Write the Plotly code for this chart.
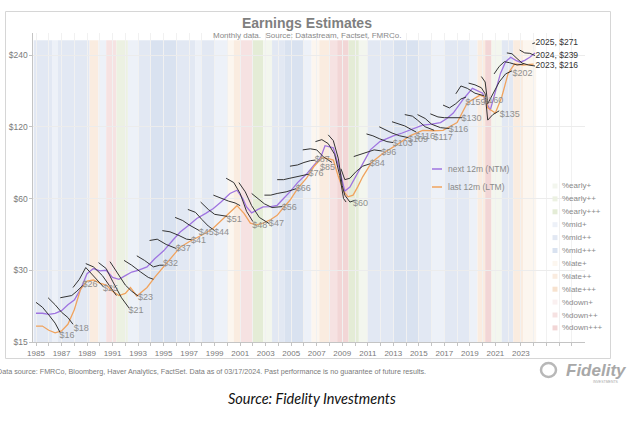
import math
import plotly.graph_objects as go

W, H = 640, 421

# ---------------- data ----------------
ntm_t = [1985.0, 1985.5, 1986.0, 1986.5, 1987.0, 1987.5, 1988.0, 1988.5, 1989.0, 1989.5, 1990.0, 1990.5,
         1991.0, 1991.5, 1992.0, 1992.5, 1993.0, 1993.7, 1994.3, 1995.0, 1995.7, 1996.3, 1997.0, 1997.6,
         1998.3, 1998.9, 1999.5, 2000.2, 2000.75, 2001.2, 2001.5, 2001.9, 2002.4, 2002.8, 2003.4, 2003.9,
         2004.4, 2004.9, 2005.5, 2006.2, 2006.8, 2007.3, 2007.65, 2008.3, 2008.8, 2009.2, 2009.6, 2010.2,
         2010.7, 2011.2, 2011.95, 2012.5, 2013.0, 2013.7, 2014.3, 2015.3, 2016.0, 2016.7, 2017.2, 2017.7,
         2018.5, 2019.2, 2020.0, 2020.3, 2020.6, 2021.0, 2021.4, 2021.8, 2022.2, 2022.6, 2022.95, 2023.3,
         2023.7, 2024.1]
ntm_v = [19.8, 19.8, 19.6, 19.8, 20.3, 21.5, 22.5, 25.0, 29.0, 30.5, 29.8, 30.0,
         28.0, 27.5, 28.5, 29.5, 30.0, 31.0, 33.5, 36.2, 40.0, 43.4, 46.5, 49.5,
         52.0, 54.5, 58.0, 63.0, 65.0, 60.0, 55.3, 52.2, 54.0, 55.3, 55.5, 56.2,
         60.0, 64.0, 70.0, 76.0, 83.0, 89.0, 100.0, 98.0, 79.0, 64.5, 67.0, 76.8,
         86.0, 96.0, 104.0, 107.0, 110.0, 113.0, 116.0, 122.0, 123.0, 125.0, 130.0, 137.0,
         157.0, 174.0, 166.0, 151.0, 141.0, 170.0, 201.0, 225.0, 235.0, 228.0, 224.0, 228.0,
         235.0, 245.0]

ltm_t = [1985.0, 1985.5, 1986.0, 1986.5, 1987.0, 1987.5, 1988.0, 1988.5, 1989.0, 1989.5, 1990.0, 1990.5,
         1991.0, 1991.5, 1992.0, 1992.4, 1992.9, 1993.7, 1994.3, 1995.0, 1995.7, 1996.3, 1997.0, 1997.6,
         1998.3, 1998.9, 1999.5, 2000.2, 2000.75, 2001.3, 2001.8, 2002.3, 2002.8, 2003.4, 2003.9, 2004.4,
         2004.9, 2005.5, 2006.2, 2006.8, 2007.4, 2008.0, 2008.3, 2008.7, 2009.1, 2009.45, 2009.85, 2010.2,
         2010.6, 2011.3, 2012.2, 2013.3, 2014.3, 2015.3, 2016.1, 2016.9, 2018.0, 2018.8, 2019.8, 2020.2,
         2020.4, 2021.0, 2021.5, 2022.0, 2022.5, 2023.2, 2024.0]
ltm_v = [17.5, 17.5, 16.8, 16.4, 16.7, 17.8, 20.5, 25.0, 27.0, 27.3, 26.5, 26.0,
         24.5, 23.5, 24.0, 25.4, 23.4, 25.4, 28.0, 31.0, 34.5, 37.5, 39.5, 41.0,
         43.0, 45.1, 48.5, 52.4, 56.0, 52.0, 47.3, 46.5, 47.3, 49.0, 51.0, 55.0,
         59.0, 66.0, 73.0, 82.0, 89.0, 88.0, 87.0, 74.0, 64.5, 61.0, 62.0, 67.0,
         74.0, 85.0, 93.0, 101.0, 110.0, 116.0, 115.5, 116.0, 125.0, 151.0, 163.0, 160.0,
         144.0, 137.0, 160.0, 201.0, 220.0, 218.0, 220.0]

# calendar-year estimate paths (time, value)
est_years = list(range(1986, 2026))
est_t = [
    [1985.0, 1985.5, 1986.0, 1986.5, 1986.9],
    [1985.95, 1986.5, 1987.0, 1987.5, 1987.9],
    [1986.9, 1987.4, 1987.8, 1988.2, 1988.7],
    [1987.9, 1988.4, 1988.9, 1989.5, 1990.3],
    [1988.9, 1989.5, 1990.2, 1990.8, 1991.3],
    [1989.9, 1990.5, 1991.0, 1991.7, 1992.3],
    [1990.8, 1991.4, 1992.0, 1992.5, 1993.0],
    [1991.9, 1992.5, 1993.2, 1993.8, 1994.2],
    [1992.9, 1993.5, 1994.2, 1994.7, 1995.0],
    [1993.9, 1994.5, 1995.2, 1995.7, 1996.0],
    [1994.9, 1995.5, 1996.2, 1996.8, 1997.2],
    [1995.9, 1996.5, 1997.0, 1997.5, 1997.8],
    [1996.9, 1997.5, 1998.0, 1998.5, 1999.0],
    [1997.9, 1998.5, 1999.0, 1999.5, 2000.0],
    [1998.9, 1999.5, 2000.1, 2000.6, 2001.0],
    [1999.9, 2000.5, 2001.0, 2001.5, 2002.0],
    [2000.9, 2001.4, 2001.9, 2002.5, 2003.3],
    [2001.9, 2002.4, 2002.9, 2003.5, 2004.3],
    [2002.9, 2003.4, 2003.9, 2004.6, 2005.4],
    [2003.9, 2004.4, 2004.9, 2005.6, 2006.4],
    [2004.9, 2005.5, 2006.0, 2006.5, 2006.9],
    [2005.9, 2006.5, 2007.0, 2007.5, 2008.2],
    [2006.9, 2007.4, 2007.9, 2008.4, 2008.8, 2009.1, 2009.3],
    [2007.9, 2008.3, 2008.7, 2009.0, 2009.2, 2009.6, 2010.0],
    [2008.9, 2009.2, 2009.6, 2010.1, 2010.6, 2011.2],
    [2009.9, 2010.4, 2010.9, 2011.5, 2012.1],
    [2010.9, 2011.4, 2011.9, 2012.5, 2013.0],
    [2011.9, 2012.4, 2012.9, 2013.5, 2014.2],
    [2012.9, 2013.4, 2013.9, 2014.4, 2014.8],
    [2013.9, 2014.5, 2014.9, 2015.5, 2016.2],
    [2014.9, 2015.5, 2016.0, 2016.7, 2017.4],
    [2015.9, 2016.5, 2017.0, 2017.6, 2018.4],
    [2016.9, 2017.4, 2017.9, 2018.3, 2018.7],
    [2017.9, 2018.3, 2018.8, 2019.4, 2020.1],
    [2018.9, 2019.4, 2019.9, 2020.2, 2020.4, 2020.8, 2021.3],
    [2019.9, 2020.2, 2020.4, 2020.8, 2021.3, 2021.8, 2022.3],
    [2020.9, 2021.3, 2021.7, 2022.1, 2022.7, 2023.2],
    [2021.9, 2022.3, 2022.7, 2023.1, 2023.6, 2024.1],
    [2022.9, 2023.3, 2023.7, 2024.1],
    [2023.9, 2024.1],
]
est_v = [
    [22.0, 21.0, 19.5, 18.0, 16.4],
    [23.0, 21.5, 20.0, 19.0, 17.8],
    [23.0, 23.3, 23.5, 24.5, 26.0],
    [25.4, 27.5, 30.8, 28.5, 25.5],
    [32.0, 31.0, 28.5, 25.5, 23.5],
    [32.3, 30.5, 27.0, 23.0, 20.8],
    [32.6, 29.0, 26.0, 24.5, 23.4],
    [33.0, 31.5, 29.5, 28.0, 27.5],
    [34.5, 33.0, 31.0, 31.5, 31.5],
    [40.0, 40.5, 38.5, 37.5, 37.0],
    [44.0, 43.5, 42.0, 40.5, 40.3],
    [50.0, 48.5, 46.5, 45.0, 44.0],
    [54.0, 52.5, 49.0, 46.0, 44.0],
    [58.0, 54.0, 51.5, 51.0, 50.5],
    [62.0, 60.0, 58.5, 57.5, 56.0],
    [73.0, 70.0, 63.0, 53.0, 48.0],
    [70.0, 64.0, 56.0, 50.0, 47.0],
    [63.0, 60.0, 57.0, 55.0, 55.5],
    [62.0, 62.0, 63.0, 64.0, 66.0],
    [72.0, 72.0, 73.0, 74.5, 76.0],
    [82.0, 83.0, 85.0, 86.5, 87.0],
    [96.0, 97.0, 96.0, 90.0, 85.0],
    [104.0, 106.0, 102.0, 92.0, 75.0, 60.0, 58.0],
    [111.0, 105.0, 88.0, 68.0, 62.0, 58.0, 59.0],
    [80.0, 72.0, 73.0, 78.0, 82.0, 84.0],
    [90.0, 92.0, 94.0, 96.0, 95.0],
    [112.0, 110.0, 107.0, 104.0, 103.0],
    [120.0, 116.0, 113.0, 110.0, 108.0],
    [126.0, 123.0, 121.0, 117.0, 114.0],
    [135.0, 133.0, 128.0, 120.0, 116.0],
    [135.0, 130.0, 123.0, 119.0, 118.0],
    [136.0, 132.0, 131.0, 131.0, 131.0],
    [148.0, 144.0, 150.0, 157.0, 160.0],
    [165.0, 178.0, 174.0, 166.0, 162.0],
    [183.0, 180.0, 175.0, 165.0, 128.0, 135.0, 140.0],
    [195.0, 185.0, 150.0, 165.0, 185.0, 200.0, 206.0],
    [200.0, 215.0, 225.0, 223.0, 218.0, 220.0],
    [245.0, 243.0, 232.0, 222.0, 218.0, 216.0],
    [252.0, 245.0, 244.0, 239.0],
    [268.0, 270.0],
]

label_t = [1986.85, 1987.95, 1988.65, 1990.25, 1992.25, 1993.0, 1994.95, 1995.95, 1997.15, 1997.75,
           1998.95, 1999.95, 2001.95, 2003.25, 2004.25, 2005.35, 2006.35, 2006.85, 2007.25, 2009.85,
           2011.15, 2012.05, 2012.95, 2014.15, 2014.75, 2016.15, 2017.35, 2018.35, 2018.65, 2020.05,
           2021.35, 2022.35]
label_v = [16.0, 17.1, 26.0, 25.0, 20.3, 23.0, 32.0, 37.0, 40.0, 43.0,
           43.0, 49.0, 46.0, 47.0, 55.0, 66.0, 76.0, 87.0, 81.0, 57.0,
           84.0, 93.0, 102.0, 106.0, 109.0, 108.0, 117.0, 130.0, 152.0, 154.0,
           135.0, 201.0]
label_text = ["$16", "$18", "$26", "$25", "$21", "$23", "$32", "$37", "$41", "$45",
              "$44", "$51", "$48", "$47", "$56", "$66", "$76", "$87", "$85", "$60",
              "$84", "$96", "$103", "$109", "$116", "$117", "$116", "$130", "$159", "$160",
              "$135", "$202"]

fwd_t = [2024.15, 2024.15, 2024.15]
fwd_v = [216.0, 239.0, 271.0]
fwd_text = ["2023, $216", "2024, $239", "2025, $271"]

# business-cycle shading
band_start = [1984.8, 1986.3, 1986.7, 1989.2, 1989.9, 1990.5, 1991.3, 1992.2, 1993.0, 1994.0,
              1996.0, 1997.5, 1998.0, 1999.0, 2000.0, 2000.5, 2001.0, 2002.0, 2002.8, 2003.5,
              2004.5, 2006.0, 2006.6, 2007.2, 2008.0, 2008.6, 2009.5, 2010.3, 2011.0, 2013.0,
              2015.0, 2016.0, 2017.0, 2019.0, 2019.6, 2020.2, 2020.7, 2021.5, 2022.4, 2023.2]
band_end = band_start[1:] + [2024.2]
band_cat = ["mid++", "mid+", "mid++", "late++", "mid+", "down++", "early++", "mid+", "mid++", "mid+++",
            "mid++", "mid+", "mid++", "mid+", "late+", "late++", "down++", "early+++", "early+", "mid++",
            "mid+++", "mid+", "late+", "late++", "down++", "down+++", "early+++", "early+", "mid++", "mid+++",
            "mid++", "mid+", "mid++", "mid+", "late++", "down+++", "early+", "mid++", "late++", "late+"]
band_top = 277

legend_cats = ["early+", "early++", "early+++", "mid+", "mid++", "mid+++",
               "late+", "late++", "late+++", "down+", "down++", "down+++"]
band_colors = {
    "early+": "#f3f6ee", "early++": "#ecf1e2", "early+++": "#e4ecd6",
    "mid+": "#edf1f8", "mid++": "#e2e8f3", "mid+++": "#d9e2f0",
    "late+": "#fcf6ef", "late++": "#faece0", "late+++": "#f7e2cf",
    "down+": "#faf0f0", "down++": "#f6e2e2", "down+++": "#f2d6d6",
}

y_ticks = [15, 30, 60, 120, 240]
y_ticktext = ["$15", "$30", "$60", "$120", "$240"]
x_ticks = list(range(1985, 2028))
x_ticktext = [str(y) if (y % 2 == 1 and y <= 2023) else "" for y in x_ticks]

# ---------------- figure ----------------
def px(x):
    return x / W

def py(y):
    return 1 - y / H

PURPLE = "#9f74e0"
ORANGE = "#f0a35e"
GREY = "#8a8a8a"
FONT = "Liberation Sans, Arial"

fig = go.Figure()

for s, e, c in zip(band_start, band_end, band_cat):
    fig.add_shape(type="rect", xref="x", yref="y", x0=s, x1=e, y0=15, y1=band_top,
                  fillcolor=band_colors[c], line_width=0, layer="below")

fig.add_trace(go.Scatter(x=ntm_t, y=ntm_v, mode="lines", name="next 12m (NTM)",
                         line=dict(color=PURPLE, width=1.3), showlegend=False, hoverinfo="skip"))
fig.add_trace(go.Scatter(x=ltm_t, y=ltm_v, mode="lines", name="last 12m (LTM)",
                         line=dict(color=ORANGE, width=1.3), showlegend=False, hoverinfo="skip"))

for yr, tt, vv in zip(est_years, est_t, est_v):
    fig.add_trace(go.Scatter(x=tt, y=vv, mode="lines", name=str(yr),
                             line=dict(color="#333333", width=1.0), showlegend=False, hoverinfo="skip"))

fig.add_trace(go.Scatter(x=label_t, y=label_v, mode="text", text=label_text, textposition="middle right",
                         textfont=dict(size=9, color="#8f8f8f", family=FONT),
                         showlegend=False, hoverinfo="skip"))
fig.add_trace(go.Scatter(x=fwd_t, y=fwd_v, mode="text", text=fwd_text, textposition="middle right",
                         textfont=dict(size=8.5, color="#333333", family=FONT),
                         showlegend=False, hoverinfo="skip"))


def note(x, y, text, size, color, xanchor="center", family=FONT):
    fig.add_annotation(x=px(x), y=py(y), xref="paper", yref="paper", text=text, showarrow=False,
                       xanchor=xanchor, yanchor="middle", font=dict(size=size, color=color, family=family))


# manual legend for the two lines
for i, (nm, col) in enumerate([("next 12m (NTM)", PURPLE), ("last 12m (LTM)", ORANGE)]):
    yy = 169 + 18 * i
    fig.add_shape(type="line", xref="paper", yref="paper", x0=px(432), x1=px(442), y0=py(yy), y1=py(yy),
                  line=dict(color=col, width=1.5))
    note(446, yy, nm, 8.5, GREY, "left")

# manual legend for the shading categories
for i, c in enumerate(legend_cats):
    yy = 186 + 12.9 * i
    fig.add_shape(type="rect", xref="paper", yref="paper", x0=px(552.5), x1=px(557.5),
                  y0=py(yy + 2.5), y1=py(yy - 2.5), fillcolor=band_colors[c], line_width=0)
    note(559.5, yy, "%" + c, 8, GREY, "left")

# frame
fig.add_shape(type="rect", xref="paper", yref="paper", x0=px(5.5), x1=px(610.5), y0=py(358.5), y1=py(11.5),
              line=dict(color="#d6d6d6", width=1), fillcolor="rgba(0,0,0,0)", layer="below")

# titles
note(307, 23, "<b>Earnings Estimates</b>", 14, "#7f7f7f")
note(307, 35, "Monthly data.  Source: Datastream, Factset, FMRCo.", 8, "#8a8a8a")

# footer
note(-5, 371, "Data source: FMRCo, Bloomberg, Haver Analytics, FactSet. Data as of 03/17/2024. "
     "Past performance is no guarantee of future results.", 7.2, "#7a7a7a", "left")
note(564, 370, "<b><i>Fidelity</i></b>", 17, "#a8a8a8", "left")
note(606, 382, "INVESTMENTS", 3.5, "#a8a8a8")
fig.add_shape(type="circle", xref="paper", yref="paper", x0=px(541), x1=px(556), y0=py(377), y1=py(363),
              line=dict(color="#b8b8b8", width=2.5), fillcolor="rgba(0,0,0,0)")
note(312, 398, "<i>Source: Fidelity Investments</i>", 14.5, "#111111", "center", "Lato, Open Sans")

fig.update_layout(
    width=W, height=H,
    margin=dict(l=0, r=0, t=0, b=0),
    paper_bgcolor="white", plot_bgcolor="white",
    showlegend=False,
    xaxis=dict(domain=[px(33.45), px(584.7)], range=[1984.8, 2028.0], tickvals=x_ticks, ticktext=x_ticktext,
               ticks="outside", ticklen=3, tickcolor="#c4c4c4", showline=True, linecolor="#c4c4c4",
               showgrid=True, gridcolor="#f1f1f1", zeroline=False, automargin=False,
               tickfont=dict(size=8, color="#7a7a7a", family=FONT)),
    yaxis=dict(domain=[1 - 342 / H, 1 - 33 / H], type="log", range=[math.log10(15), math.log10(297)],
               tickvals=y_ticks, ticktext=y_ticktext, ticks="outside", ticklen=3, tickcolor="#c4c4c4",
               showline=True, linecolor="#c4c4c4", showgrid=True, gridcolor="#ececec", zeroline=False,
               automargin=False, tickfont=dict(size=8.5, color="#7a7a7a", family=FONT)),
)

fig.write_html("out.html", config={"displayModeBar": False, "staticPlot": True},
               post_script="document.body.style.margin='0px';document.body.style.overflow='hidden';")
